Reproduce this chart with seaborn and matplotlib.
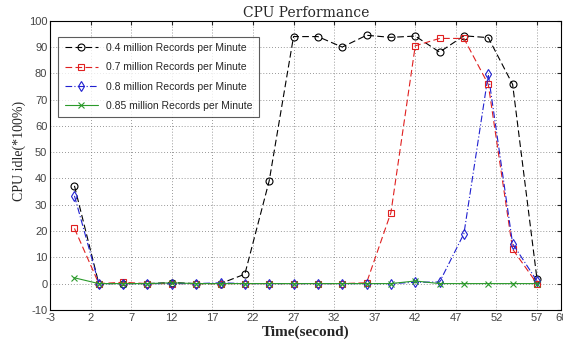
import matplotlib
matplotlib.use('Agg')
import matplotlib.pyplot as plt
import pandas as pd
import seaborn as sns

# time axis (seconds) and CPU idle values
time_s = [0, 3, 6, 9, 12, 15, 18, 21, 24, 27, 30, 33, 36, 39, 42, 45, 48, 51, 54, 57]
idle_04 = [37.2, 0, 0, 0, 0.4, 0, 0, 3.6, 39.1, 94, 94, 90, 94.5, 93.7, 94.2, 88.1, 94.3, 93.6, 75.8, 1.8]
idle_07 = [21, 0, 0.5, 0, 0, 0, 0, 0, 0, 0, 0, 0, 0.3, 27, 90.5, 93.3, 93.3, 75.8, 13.1, 0]
idle_08 = [33.4, 0, 0, 0, 0, 0, 0.3, 0, 0, 0, 0, 0, 0, 0, 0.5, 0.6, 19, 79.6, 15.2, 1]
idle_085 = [2.2, 0, 0, 0, 0.3, 0, 0, 0, 0, 0, 0, 0, 0, 0, 1, 0, 0, 0, 0, 0]
labels = ['0.4 million Records per Minute', '0.7 million Records per Minute',
          '0.8 million Records per Minute', '0.85 million Records per Minute']
xticks = [-3, 2, 7, 12, 17, 22, 27, 32, 37, 42, 47, 52, 57, 60]

sns.set_style('white')
plt.rcParams['font.family'] = ['Liberation Sans', 'DejaVu Sans']
plt.rcParams['axes.unicode_minus'] = False

fig = plt.figure(figsize=(5.63, 3.47), dpi=100)
ax = fig.add_axes([0.089, 0.107, 0.908, 0.833])

styles = [
    (idle_04, 'black', 'o', (0, (6, 3))),
    (idle_07, '#e02020', 's', (0, (6, 3))),
    (idle_08, '#2020d0', 'd', (0, (6, 2, 1, 2))),
    (idle_085, '#2a9a2a', 'x', '-'),
]
for (vals, col, mk, ls), lab in zip(styles, labels):
    df = pd.DataFrame({'t': time_s, 'v': vals})
    sns.lineplot(data=df, x='t', y='v', ax=ax, color=col, marker=mk, linestyle=ls,
                 linewidth=0.8, markersize=5, markerfacecolor='none',
                 markeredgecolor=col, markeredgewidth=0.8, label=lab)

ax.set_xlim(-3, 60)
ax.set_ylim(-10, 100)
ax.set_xticks(xticks)
ax.set_yticks(range(-10, 101, 10))
ax.tick_params(direction='in', labelsize=8, labelcolor='#444444', length=3,
               top=True, right=True, pad=2)
ax.grid(True, linestyle=(0, (1, 2.5)), color='#777777', linewidth=0.6)
for s in ax.spines.values():
    s.set_color('black')
    s.set_linewidth(0.8)

ax.set_title('CPU Performance', fontfamily='DejaVu Serif', fontsize=10, pad=3)
ax.set_xlabel('Time(second)', fontfamily='Liberation Serif', fontsize=11,
              fontweight='bold', labelpad=2)
ax.set_ylabel('CPU idle(*100%)', fontfamily='Liberation Serif', fontsize=10)
ax.yaxis.set_label_coords(-0.048, 0.55)

leg = ax.legend(loc='upper left', bbox_to_anchor=(0.016, 0.945), fontsize=7.5,
                handlelength=3.2, frameon=True, fancybox=False, borderpad=0.6,
                labelspacing=0.9, borderaxespad=0)
leg.get_frame().set_edgecolor('#333333')
leg.get_frame().set_linewidth(0.8)

fig.savefig('out.png', dpi=100)
